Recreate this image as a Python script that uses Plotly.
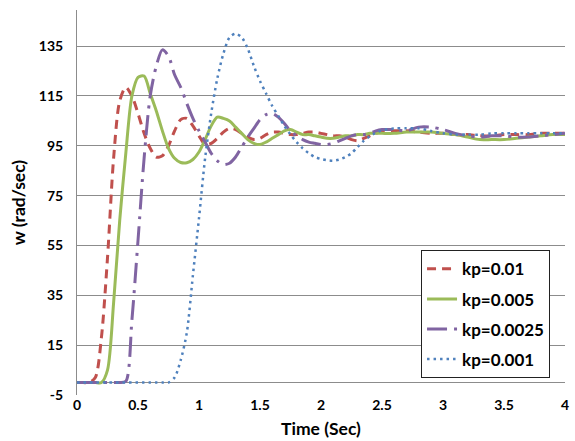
import plotly.graph_objects as go

# time axis (s)
t = [0.00, 0.05, 0.10, 0.15, 0.20, 0.25, 0.30, 0.35, 0.40, 0.45,
     0.50, 0.55, 0.60, 0.65, 0.70, 0.75, 0.80, 0.85, 0.90, 0.95,
     1.00, 1.05, 1.10, 1.15, 1.20, 1.25, 1.30, 1.35, 1.40, 1.45,
     1.50, 1.55, 1.60, 1.65, 1.70, 1.75, 1.80, 1.85, 1.90, 1.95,
     2.00, 2.05, 2.10, 2.15, 2.20, 2.25, 2.30, 2.35, 2.40, 2.45,
     2.50, 2.60, 2.70, 2.80, 2.90, 3.00, 3.10, 3.20, 3.30, 3.40,
     3.50, 3.60, 3.70, 3.80, 3.90, 4.00]

w_kp001 = [0, 0, 0, 2, 18, 50, 90, 113, 118.5, 115,
           108, 100, 94, 90.5, 91, 95, 101, 105.5, 106, 103,
           99, 95.5, 96, 98, 100.5, 102, 101.5, 100, 98.5, 97.5,
           98, 99.5, 100.5, 100.5, 100, 99.5, 99.5, 100, 100.5, 100.5,
           100, 99.5, 99, 99, 98.5, 97.5, 97, 98, 99, 100,
           100.5, 101, 101, 100.5, 100, 100, 99.5, 99.5, 99, 99,
           99.5, 99.5, 99.5, 100, 100, 100]

w_kp0005 = [0, 0, 0, 0, 0, 5, 32, 65, 92, 115,
            122.5, 123, 116, 109, 101, 94, 90, 88.3, 88.2, 89.5,
            92.5, 97.5, 103, 106.5, 106, 105, 102.5, 100, 97.5, 96,
            95.5, 96.5, 98, 99.5, 101, 101.5, 100.5, 99.5, 99.5, 99,
            98.5, 98, 98, 98.5, 99, 99, 99.5, 99.5, 100, 100,
            100, 100, 100.5, 100.5, 100.5, 100, 99.5, 98.5, 97.5, 97.5,
            97.5, 98, 98.5, 99, 99.5, 99.5]

w_kp00025 = [0, 0, 0, 0, 0, 0, 0, 0, 0.5, 25,
             57, 90, 115, 127, 133.5, 131, 123.5, 118.5, 112, 106,
             101, 96.5, 92, 89, 87.5, 88, 90.5, 94.5, 98.5, 102,
             105.5, 107.5, 108, 106.5, 104, 101, 99, 97.5, 96.5, 96,
             95.5, 95.5, 96, 97, 98, 99, 99.5, 99.5, 100, 101,
             101.5, 101.5, 101, 102.5, 102.5, 101.5, 100, 99, 98.5, 99,
             99, 98.5, 98.5, 99, 99.5, 100]

w_kp0001 = [0, 0, 0, 0, 0, 0, 0, 0, 0, 0,
            0, 0, 0, 0, 0, 0, 2, 9, 20, 43,
            66, 90, 108, 122, 132, 138.5, 140, 138.5, 134, 127,
            121, 116, 111, 107, 103, 99.5, 96.5, 94, 92, 90.5,
            89.7, 89.2, 89, 89.5, 90.5, 92, 94.5, 97, 98.8, 100.2,
            101.2, 102, 102, 102, 101, 100, 99.5, 99.5, 99.5, 100,
            100, 100, 100, 100, 100, 100]

series_names = ["kp=0.01", "kp=0.005", "kp=0.0025", "kp=0.001"]
series_values = [w_kp001, w_kp0005, w_kp00025, w_kp0001]
series_colors = ["#C0504D", "#9BBB59", "#8064A2", "#4F81BD"]
series_dash = ["9px,6px", "solid", "20px,7px,3px,7px", "2.5px,4px"]
series_width = [3, 3, 3, 2.5]

x_ticks = [0, 0.5, 1, 1.5, 2, 2.5, 3, 3.5, 4]
x_labels = ["0", "0.5", "1", "1.5", "2", "2.5", "3", "3.5", "4"]
y_ticks = [-5, 15, 35, 55, 75, 95, 115, 135]
y_labels = ["-5", "15", "35", "55", "75", "95", "115", "135"]

FONT = "Lato"

fig = go.Figure()
for i, (name, vals, col, dash, wd) in enumerate(
        zip(series_names, series_values, series_colors, series_dash, series_width)):
    fig.add_trace(go.Scatter(
        x=t, y=vals, name=name, mode="lines",
        line=dict(color=col, dash=dash, width=wd, shape="spline", smoothing=0.8),
        legendgroup=f"g{i}",
    ))

fig.update_layout(
    width=575, height=441,
    margin=dict(l=77, r=6, t=10, b=46),
    paper_bgcolor="white", plot_bgcolor="white",
    font=dict(family=FONT, color="black"),
    showlegend=True,
    legend=dict(
        x=0.705, y=0.376, xanchor="left", yanchor="top",
        bgcolor="white", bordercolor="#222222", borderwidth=1,
        font=dict(family=FONT, size=17, color="black", weight="bold"),
        tracegroupgap=5,
    ),
    xaxis=dict(
        range=[0, 4], tickvals=x_ticks, ticktext=x_labels,
        showgrid=False, zeroline=False, showline=False, ticks="",
        tickfont=dict(family=FONT, size=14, color="black", weight="bold"),
        title=dict(text="<b>Time (Sec)</b>", font=dict(family=FONT, size=17.5, color="black"), standoff=10),
    ),
    yaxis=dict(
        range=[-5, 149.5], tickvals=y_ticks, ticktext=y_labels,
        showgrid=True, gridcolor="#8C8C8C", gridwidth=1,
        zeroline=True, zerolinecolor="#8C8C8C", zerolinewidth=1,
        showline=True, linecolor="#8C8C8C", linewidth=1,
        ticks="", ticklabelstandoff=10,
        tickfont=dict(family=FONT, size=14, color="black", weight="bold"),
        title=dict(text="<b>w (rad/sec)</b>", font=dict(family=FONT, size=17.5, color="black"), standoff=8),
    ),
)

fig.write_html("out.html")
